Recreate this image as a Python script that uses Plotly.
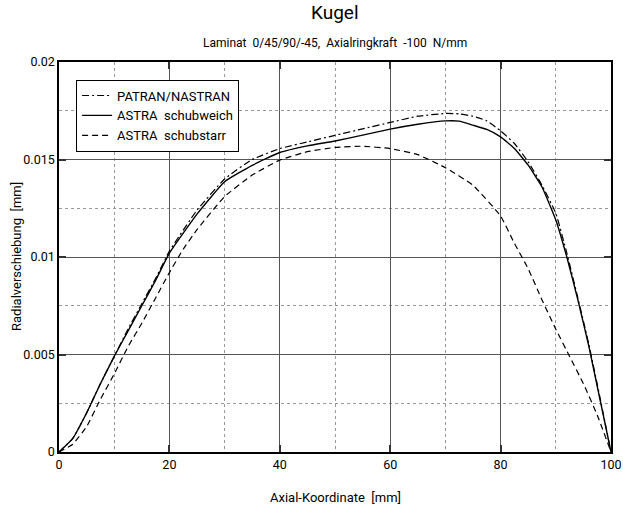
import plotly.graph_objects as go

# ---- data ----
x_patran = [0, 2.5, 5, 7.5, 10, 12.5, 15, 17.5, 20, 25, 30, 35, 40, 45, 50, 55, 60, 65, 70,
            72.5, 75, 77.5, 80, 82.5, 85, 87.5, 90, 92, 94, 96, 98, 100]
y_patran = [0, 0.0007, 0.0020, 0.0035, 0.0049, 0.0063, 0.0076, 0.0089, 0.0103, 0.0124, 0.0140,
            0.0150, 0.01556, 0.0159, 0.01624, 0.01657, 0.0169, 0.01722, 0.01736, 0.01734, 0.01722,
            0.01698, 0.01647, 0.01582, 0.01488, 0.01368, 0.01224, 0.0102, 0.0079, 0.0055, 0.0028, 0]

x_weich = [0, 2.5, 5, 7.5, 10, 12.5, 15, 17.5, 20, 25, 30, 35, 40, 45, 50, 55, 60, 65, 70,
           72.5, 75, 77.5, 80, 82.5, 85, 87.5, 90, 92, 94, 96, 98, 100]
y_weich = [0, 0.0007, 0.0020, 0.0035, 0.0049, 0.0062, 0.0075, 0.0088, 0.0102, 0.0122, 0.01386,
           0.0147, 0.01536, 0.0157, 0.01595, 0.01625, 0.01656, 0.01681, 0.01698, 0.01697, 0.01676,
           0.01654, 0.01616, 0.01556, 0.01471, 0.01359, 0.0119, 0.0100, 0.0078, 0.0054, 0.0027, 0]

x_starr = [0, 2.5, 5, 7.5, 10, 12.5, 15, 17.5, 20, 22.5, 25, 30, 35, 40, 45, 50, 55, 60, 65,
           70, 75, 80, 82.5, 85, 87.5, 90, 92.5, 95, 97.5, 100]
y_starr = [0, 0.0004, 0.0013, 0.0027, 0.0040, 0.0054, 0.0066, 0.0079, 0.0092, 0.0104, 0.0114,
           0.0131, 0.0142, 0.01497, 0.0154, 0.01562, 0.01568, 0.01556, 0.01525, 0.01458, 0.01368,
           0.0121, 0.0107, 0.0094, 0.0078, 0.0063, 0.0049, 0.0035, 0.0019, 0]

x_ticks = [0, 20, 40, 60, 80, 100]
x_ticktext = ["0", "20", "40", "60", "80", "100"]
y_ticks = [0, 0.005, 0.01, 0.015, 0.02]
y_ticktext = ["0", "0.005", "0.01", "0.015", "0.02"]

title_text = "Kugel"
subtitle_text = "Laminat  0/45/90/-45,  Axialringkraft  -100  N/mm"
x_title = "Axial-Koordinate  [mm]"
y_title = "Radialverschiebung  [mm]"

FONT = "Roboto, Liberation Sans, sans-serif"

fig = go.Figure()
fig.add_trace(go.Scatter(x=x_patran, y=y_patran, mode="lines", name="PATRAN/NASTRAN", cliponaxis=True,
                         line=dict(color="black", width=1.2, dash="7px,3px,2px,3px", shape="spline", smoothing=0.4)))
fig.add_trace(go.Scatter(x=x_weich, y=y_weich, mode="lines", name="ASTRA  schubweich", cliponaxis=True,
                         line=dict(color="black", width=1.4, shape="spline", smoothing=0.4)))
fig.add_trace(go.Scatter(x=x_starr, y=y_starr, mode="lines", name="ASTRA  schubstarr", cliponaxis=True,
                         line=dict(color="black", width=1.2, dash="6px,4px", shape="spline", smoothing=0.4)))

axis_common = dict(
    showline=True, linecolor="black", linewidth=1.5, mirror="ticks",
    ticks="inside", ticklen=7, tickwidth=2, tickcolor="#333",
    showgrid=True, gridcolor="#555", gridwidth=1, zeroline=False,
    tickfont=dict(family=FONT, size=12.5, color="black"),
    automargin=False, ticklabeloverflow="allow",
)

fig.update_xaxes(range=[0, 100], tickvals=x_ticks, ticktext=x_ticktext,
                 minor=dict(dtick=10, tick0=0, showgrid=True, gridcolor="#999", griddash="dot", gridwidth=1),
                 **axis_common)
fig.update_yaxes(range=[0, 0.02], tickvals=y_ticks, ticktext=y_ticktext,
                 minor=dict(dtick=0.0025, tick0=0, showgrid=True, gridcolor="#999", griddash="dot", gridwidth=1),
                 **axis_common)

fig.update_layout(
    width=623, height=506,
    margin=dict(l=59, r=12, t=62, b=54),
    paper_bgcolor="white", plot_bgcolor="white",
    font=dict(family=FONT, color="black"),
    showlegend=True,
    legend=dict(x=0.031, y=0.955, xanchor="left", yanchor="top",
                bgcolor="white", bordercolor="black", borderwidth=1,
                font=dict(family=FONT, size=13, color="black"),
                tracegroupgap=0, itemwidth=30),
    annotations=[
        dict(text=title_text, xref="paper", yref="paper", x=0.5, y=1, yshift=36,
             xanchor="center", yanchor="bottom", showarrow=False,
             font=dict(family=FONT, size=19, color="black")),
        dict(text=subtitle_text, xref="paper", yref="paper", x=0.5, y=1, yshift=10,
             xanchor="center", yanchor="bottom", showarrow=False,
             font=dict(family=FONT, size=12, color="black")),
        dict(text=x_title, xref="paper", yref="paper", x=0.5, y=0, yshift=-36,
             xanchor="center", yanchor="top", showarrow=False,
             font=dict(family=FONT, size=13, color="black")),
        dict(text=y_title, xref="paper", yref="paper", x=0, xshift=-43, y=0.5,
             xanchor="center", yanchor="middle", showarrow=False, textangle=-90,
             font=dict(family=FONT, size=13, color="black")),
    ],
)

fig.write_html("out.html", config={"displayModeBar": False},
               post_script="document.body.style.margin='0';document.body.style.overflow='hidden';")
